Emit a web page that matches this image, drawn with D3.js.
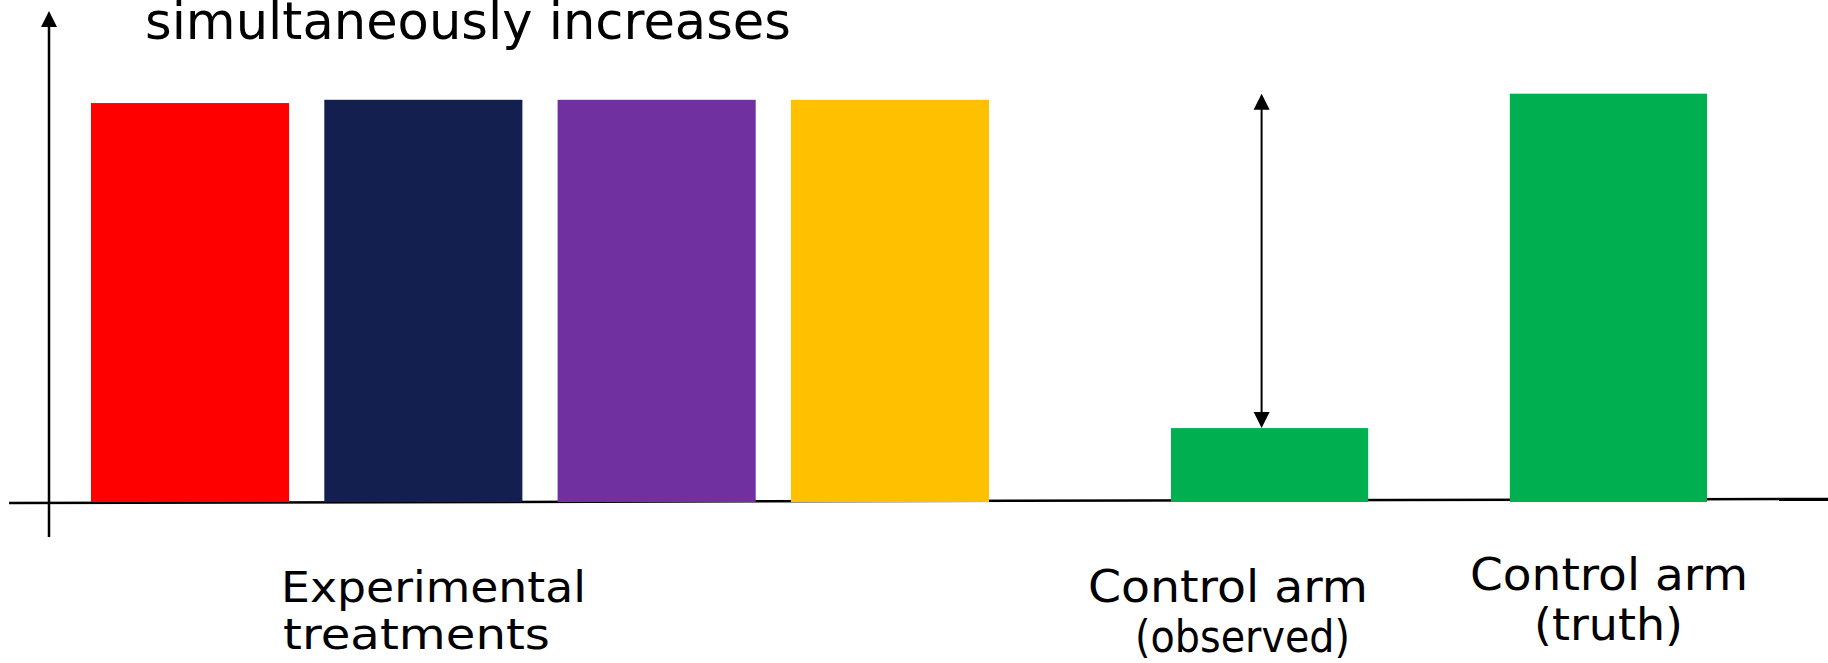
<!DOCTYPE html>
<html>
<head>
<meta charset="utf-8">
<script src="https://cdn.jsdelivr.net/npm/d3@7"></script>
<style>
  html, body { margin: 0; padding: 0; background: #ffffff; }
  svg { display: block; }
  text { font-family: "DejaVu Sans", "Liberation Sans", sans-serif; fill: #000; }
</style>
</head>
<body>
<script>
// Bar heights in arbitrary effect units (0 = baseline)
const treatmentKeys = ["treatment1", "treatment2", "treatment3", "treatment4"];
const treatmentValues = [97.7, 98.5, 98.5, 98.5];
const controlKeys = ["observed", "truth"];
const controlValues = [18.1, 100];

// Fill colours
const treatmentColors = ["#ff0000", "#131f4f", "#7030a0", "#ffc000"];
const controlColors = ["#00b050", "#00b050"];

// Text blocks: lines of each label
const titleText = "simultaneously increases";
const treatmentLabel = ["Experimental", "treatments"];
const observedLabel = ["Control arm", "(observed)"];
const truthLabel = ["Control arm", "(truth)"];

const W = 1828, H = 663;
const svg = d3.select("body").append("svg").attr("width", W).attr("height", H);

const y = d3.scaleLinear().domain([0, 120]).range([502, 12]);

const xTreat = d3.scaleBand().domain(treatmentKeys).range([91, 989]).paddingInner(0.151).paddingOuter(0);
const xCtrl = d3.scaleBand().domain(controlKeys).range([1171, 1707]).paddingInner(0.418).paddingOuter(0);

// Axes frame: horizontal baseline and vertical arrow
svg.append("line")
  .attr("x1", 9).attr("y1", 503).attr("x2", W).attr("y2", 499)
  .attr("stroke", "#000").attr("stroke-width", 2.5);

svg.append("line")
  .attr("x1", 49).attr("y1", 537).attr("x2", 49).attr("y2", 24)
  .attr("stroke", "#000").attr("stroke-width", 2.5);
svg.append("path")
  .attr("d", "M49,11 L57,27 L41,27 Z")
  .attr("fill", "#000");

// Experimental treatment bars
svg.append("g").selectAll("rect")
  .data(treatmentValues)
  .join("rect")
  .attr("x", (d, i) => xTreat(treatmentKeys[i]))
  .attr("width", xTreat.bandwidth())
  .attr("y", d => y(d))
  .attr("height", d => y(0) - y(d))
  .attr("fill", (d, i) => treatmentColors[i]);

// Control arm bars
svg.append("g").selectAll("rect")
  .data(controlValues)
  .join("rect")
  .attr("x", (d, i) => xCtrl(controlKeys[i]))
  .attr("width", xCtrl.bandwidth())
  .attr("y", d => y(d))
  .attr("height", d => y(0) - y(d))
  .attr("fill", (d, i) => controlColors[i]);

// Double-headed arrow showing the gap between observed and true control
const ax = xCtrl("observed") + xCtrl.bandwidth() / 2 - 8;
const yTop = y(controlValues[1]);
const yBot = y(controlValues[0]);
svg.append("line")
  .attr("x1", ax).attr("x2", ax)
  .attr("y1", yTop + 12).attr("y2", yBot - 12)
  .attr("stroke", "#000").attr("stroke-width", 2);
svg.append("path")
  .attr("d", `M${ax},${yTop} L${ax + 8},${yTop + 16} L${ax - 8},${yTop + 16} Z`)
  .attr("fill", "#000");
svg.append("path")
  .attr("d", `M${ax},${yBot} L${ax + 8},${yBot - 16} L${ax - 8},${yBot - 16} Z`)
  .attr("fill", "#000");

// Text
function label(str, x, yBase, size, len) {
  svg.append("text")
    .attr("x", x).attr("y", yBase)
    .attr("font-size", size)
    .attr("textLength", len)
    .attr("lengthAdjust", "spacingAndGlyphs")
    .text(str);
}

label(titleText, 145, 39, 51, 646);

label(treatmentLabel[0], 281, 602, 43, 305);
label(treatmentLabel[1], 283, 649, 43, 267);

label(observedLabel[0], 1088, 602, 45, 280);
label(observedLabel[1], 1135, 652, 45, 215);

label(truthLabel[0], 1470, 590, 45, 278);
label(truthLabel[1], 1534, 640, 45, 149);
</script>
</body>
</html>
